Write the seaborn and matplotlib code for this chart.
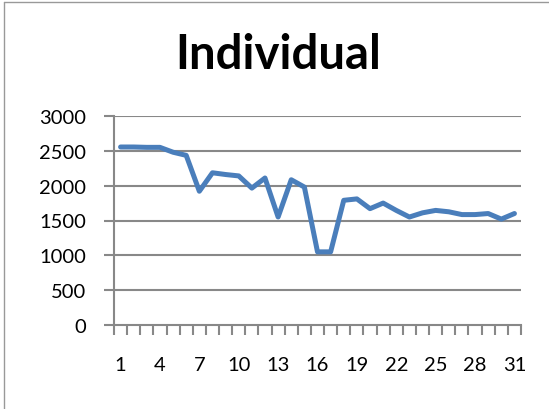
import matplotlib
matplotlib.use("Agg")
import matplotlib.pyplot as plt
import seaborn as sns
import pandas as pd
from matplotlib.lines import Line2D

days = list(range(1, 32))
values = [2555, 2555, 2550, 2550, 2480, 2435, 1920, 2185, 2160, 2140,
          1965, 2110, 1550, 2085, 1980, 1050, 1050, 1790, 1810, 1670,
          1750, 1645, 1550, 1610, 1645, 1625, 1585, 1585, 1600, 1520, 1600]
yticks = [0, 500, 1000, 1500, 2000, 2500, 3000]
xlabels = [1, 4, 7, 10, 13, 16, 19, 22, 25, 28, 31]
title = "Individual"

sns.set_style("white")
plt.rcParams['font.family'] = ['Lato', 'DejaVu Sans']
plt.rcParams['xtick.bottom'] = True
plt.rcParams['ytick.left'] = True

df = pd.DataFrame({"day": days, "value": values})

fig = plt.figure(figsize=(5.49, 4.10), dpi=100)
ax = fig.add_axes([114/549, 1-326/410, (521-114)/549, (326-117)/410])

grid_c = "#888888"
for v in yticks[1:]:
    ax.axhline(v, color=grid_c, lw=1.5, zorder=1)

sns.lineplot(data=df, x="day", y="value", ax=ax, color="#4a7ebb", lw=3.6,
             zorder=3, solid_joinstyle="round")

ax.set_xlim(0.5, 31.5)
ax.set_ylim(0, 3000)
ax.set_yticks(yticks)
ax.set_yticklabels([str(v) for v in yticks], fontsize=14.5, color="black")
ax.set_xticks(xlabels)
ax.set_xticklabels([str(v) for v in xlabels], fontsize=14.5, color="black")
ax.set_xticks([i + 0.5 for i in range(0, 32)], minor=True)
ax.tick_params(axis="x", which="major", bottom=True, length=0, pad=22)
ax.tick_params(axis="x", which="minor", bottom=True, length=7, width=1.5, color=grid_c, direction="out")
ax.tick_params(axis="y", which="major", left=True, length=7, width=1.5, color=grid_c, direction="out", pad=13)
ax.set_xlabel("")
ax.set_ylabel("")
for s in ["top", "right"]:
    ax.spines[s].set_visible(False)
for s in ["left", "bottom"]:
    ax.spines[s].set_color(grid_c)
    ax.spines[s].set_linewidth(1.5)

fig.text(278/549, 1-55/410, title, ha="center", va="center",
         fontsize=34, fontweight="bold", color="black")

# figure border
fig.add_artist(Line2D([4/549, 4/549], [0, 1-3/410], transform=fig.transFigure, color="#999999", lw=1))
fig.add_artist(Line2D([4/549, 1], [1-3/410, 1-3/410], transform=fig.transFigure, color="#999999", lw=1))

fig.savefig("out.png", dpi=100)
